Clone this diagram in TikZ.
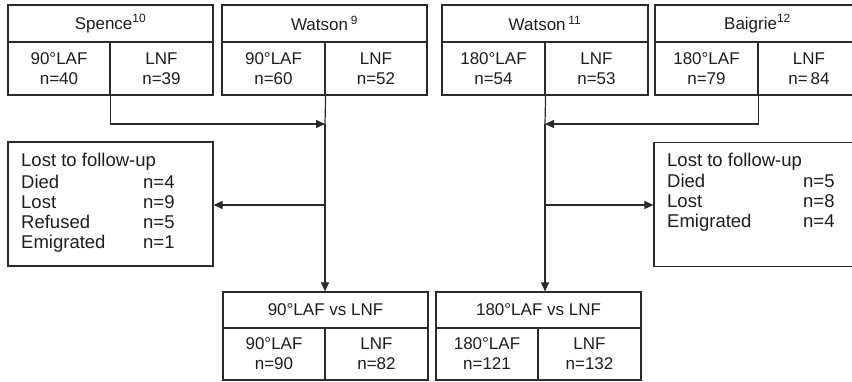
\documentclass[tikz,border=0pt]{standalone}
\usepackage{fontspec}
\setmainfont{Liberation Sans}
\usetikzlibrary{arrows.meta}
\definecolor{ink}{HTML}{1E1E1E}
\definecolor{linec}{HTML}{2A2A2A}
\tikzset{
  cell/.style={draw=linec, line width=1.2pt, inner sep=0pt, align=center, text=ink,
    font=\fontsize{17}{20}\selectfont},
  lostbox/.style={draw=linec, line width=1.2pt, inner sep=0pt, minimum width=205pt, minimum height=124pt},
  losttext/.style={inner sep=0pt, anchor=base west, text=ink, font=\fontsize{18.5}{20}\selectfont},
  conn/.style={draw=linec, line width=1.2pt},
  arr/.style={conn, -{Triangle[length=9pt,width=8pt]}}
}
\begin{document}
\begin{tikzpicture}[x=1pt,y=-1pt]
\useasboundingbox (0,0) rectangle (852,382);
\clip (0,0) rectangle (852,382);
\fill[white] (0,0) rectangle (852,382);

% Top boxes
\node[cell, minimum width=205pt, minimum height=37pt] (spH) at (110.5,23.5) {Spence\textsuperscript{10}};
\node[cell, minimum width=102pt, minimum height=53pt] (spL) at (59,68.5) {90°LAF\\n=40};
\node[cell, minimum width=103pt, minimum height=53pt] (spR) at (161.5,68.5) {LNF\\n=39};

\node[cell, minimum width=205pt, minimum height=37pt] (w9H) at (324.5,23.5) {Watson\,\textsuperscript{9}};
\node[cell, minimum width=103pt, minimum height=53pt] (w9L) at (273.5,68.5) {90°LAF\\n=60};
\node[cell, minimum width=102pt, minimum height=53pt] (w9R) at (376,68.5) {LNF\\n=52};

\node[cell, minimum width=206pt, minimum height=37pt] (w11H) at (545,23.5) {Watson\,\textsuperscript{11}};
\node[cell, minimum width=103pt, minimum height=53pt] (w11L) at (493.5,68.5) {180°LAF\\n=54};
\node[cell, minimum width=103pt, minimum height=53pt] (w11R) at (596.5,68.5) {LNF\\n=53};

\node[cell, minimum width=205pt, minimum height=37pt] (baH) at (757.5,23.5) {Baigrie\textsuperscript{12}};
\node[cell, minimum width=103pt, minimum height=53pt] (baL) at (706.5,68.5) {180°LAF\\n=79};
\node[cell, minimum width=102pt, minimum height=53pt] (baR) at (809,68.5) {LNF\\n=\,84};

% Lost boxes
\node[lostbox] (lostL) at (110.5,204) {};
\node[losttext] (lostLt) at (21,167) {\begin{tabular}[t]{@{}p{122pt}@{}l@{}}\multicolumn{2}{@{}l@{}}{Lost to follow-up}\\[2pt] Died & n=4\\ Lost & n=9\\ Refused & n=5\\ Emigrated & n=1\end{tabular}};
\node[lostbox] (lostR) at (756.5,204.5) {};
\node[losttext] (lostRt) at (667,167) {\begin{tabular}[t]{@{}p{136pt}@{}l@{}}\multicolumn{2}{@{}l@{}}{Lost to follow-up}\\[1pt] Died & n=5\\ Lost & n=8\\ Emigrated & n=4\end{tabular}};

% Bottom boxes
\node[cell, minimum width=205pt, minimum height=36pt] (b1H) at (325.5,310) {90°LAF vs LNF};
\node[cell, minimum width=102pt, minimum height=52pt] (b1L) at (274,354) {90°LAF\\n=90};
\node[cell, minimum width=103pt, minimum height=52pt] (b1R) at (376.5,354) {LNF\\n=82};

\node[cell, minimum width=205pt, minimum height=36pt] (b2H) at (538.5,310) {180°LAF vs LNF};
\node[cell, minimum width=102pt, minimum height=52pt] (b2L) at (487,354) {180°LAF\\n=121};
\node[cell, minimum width=103pt, minimum height=52pt] (b2R) at (589.5,354) {LNF\\n=132};

% Connectors
\coordinate (jL) at (325,124);
\coordinate (jR) at (545,124);
\coordinate (sL) at (325,205);
\coordinate (sR) at (545,205);
\draw[arr] (spL.south east) |- (jL);
\draw[conn] (w9L.south east) -- (jL);
\draw[arr] (jL) -- (b1H.north -| jL);
\draw[arr] (sL) -- (sL -| lostL.east);
\draw[arr] (baL.south east) |- (jR);
\draw[conn] (w11L.south east) -- (jR);
\draw[arr] (jR) -- (b2H.north -| jR);
\draw[arr] (sR) -- (sR -| lostR.west);
\end{tikzpicture}
\end{document}
